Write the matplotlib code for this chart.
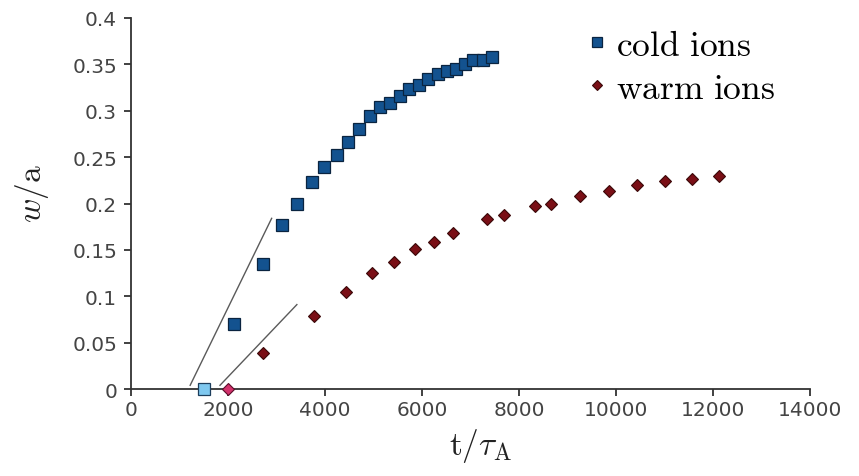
import matplotlib
matplotlib.use("Agg")
import matplotlib.pyplot as plt
from matplotlib.lines import Line2D

# ---- data ----
cold_t = [1500, 2130, 2715, 3105, 3430, 3725, 3980, 4240, 4480, 4710, 4930, 5135,
          5340, 5545, 5740, 5945, 6130, 6335, 6510, 6700, 6890, 7060, 7250, 7450]
cold_w = [0.0, 0.070, 0.135, 0.177, 0.200, 0.223, 0.239, 0.252, 0.266, 0.280, 0.294, 0.304,
          0.308, 0.316, 0.323, 0.328, 0.334, 0.340, 0.343, 0.345, 0.350, 0.355, 0.355, 0.358]

warm_t = [2000, 2730, 3770, 4430, 4960, 5420, 5850, 6250, 6630, 7350, 7690, 8330,
          8650, 9260, 9860, 10440, 11010, 11570, 12130]
warm_w = [0.0, 0.039, 0.079, 0.105, 0.125, 0.137, 0.151, 0.158, 0.168, 0.183, 0.188, 0.197,
          0.200, 0.2085, 0.213, 0.220, 0.2245, 0.226, 0.230]

cold_tangent_t = [1220, 2900]
cold_tangent_w = [0.004, 0.184]
warm_tangent_t = [1835, 3420]
warm_tangent_w = [0.004, 0.091]

x_ticks = [0, 2000, 4000, 6000, 8000, 10000, 12000, 14000]
y_ticks = [0, 0.05, 0.1, 0.15, 0.2, 0.25, 0.3, 0.35, 0.4]
y_tick_labels = ["0", "0.05", "0.1", "0.15", "0.2", "0.25", "0.3", "0.35", "0.4"]
series_labels = [r"$\mathrm{cold\ ions}$", r"$\mathrm{warm\ ions}$"]

# ---- style ----
plt.rcParams["mathtext.fontset"] = "cm"
cold_face, cold_edge = "#13528f", "#0a2440"
warm_face, warm_edge = "#7a0f16", "#3a0808"
cold_first_face = "#7fc8ef"
warm_first_face = "#d3326c"
axis_col = "#333333"
tick_col = "#444444"

fig = plt.figure(figsize=(8.59, 4.77), dpi=100)
ax = fig.add_axes([131 / 859, 1 - 390 / 477, 679 / 859, 371 / 477])

ax.plot(cold_tangent_t, cold_tangent_w, color="#5a5a5a", lw=1.0, zorder=2)
ax.plot(warm_tangent_t, warm_tangent_w, color="#5a5a5a", lw=1.0, zorder=2)

ax.plot(cold_t[1:], cold_w[1:], ls="none", marker="s", ms=8.0, mfc=cold_face,
        mec=cold_edge, mew=0.9, zorder=3)
ax.plot(cold_t[:1], cold_w[:1], ls="none", marker="s", ms=8.0, mfc=cold_first_face,
        mec="#1d3e5c", mew=0.9, zorder=4, clip_on=False)
ax.plot(warm_t[1:], warm_w[1:], ls="none", marker="D", ms=6.4, mfc=warm_face,
        mec=warm_edge, mew=0.8, zorder=3)
ax.plot(warm_t[:1], warm_w[:1], ls="none", marker="D", ms=6.4, mfc=warm_first_face,
        mec="#5a0c28", mew=0.8, zorder=4, clip_on=False)

ax.set_xlim(x_ticks[0], x_ticks[-1])
ax.set_ylim(y_ticks[0], y_ticks[-1])
ax.set_xticks(x_ticks)
ax.set_xticklabels([str(v) for v in x_ticks])
ax.set_yticks(y_ticks)
ax.set_yticklabels(y_tick_labels)

for s in ["top", "right"]:
    ax.spines[s].set_visible(False)
for s in ["left", "bottom"]:
    ax.spines[s].set_color(axis_col)
    ax.spines[s].set_linewidth(1.3)

ax.tick_params(axis="both", direction="out", length=5, width=1.3, color=axis_col,
               labelsize=14.5, labelcolor=tick_col)
ax.tick_params(axis="x", pad=3)
ax.tick_params(axis="y", pad=5)
for lbl in ax.get_xticklabels() + ax.get_yticklabels():
    lbl.set_fontfamily("DejaVu Sans")

ax.set_xlabel(r"$\mathrm{t}/\tau_\mathrm{A}$", fontsize=24, color="#222222")
ax.set_ylabel(r"$w/\mathrm{a}$", fontsize=24, color="#222222")
ax.xaxis.set_label_coords(0.5 + 10 / 679, -0.10)
ax.yaxis.set_label_coords(-0.118, 0.53)

handles = [
    Line2D([], [], ls="none", marker="s", ms=7.0, mfc=cold_face, mec=cold_edge, mew=0.9),
    Line2D([], [], ls="none", marker="D", ms=5.5, mfc=warm_face, mec=warm_edge, mew=0.8),
]
ax.legend(handles, series_labels, loc="upper left", bbox_to_anchor=(0.673, 0.974),
          frameon=False, fontsize=25.5, handlelength=0.5, handletextpad=0.3,
          labelspacing=0.25, borderpad=0.0, borderaxespad=0.0)

fig.savefig("out.png", dpi=100)
